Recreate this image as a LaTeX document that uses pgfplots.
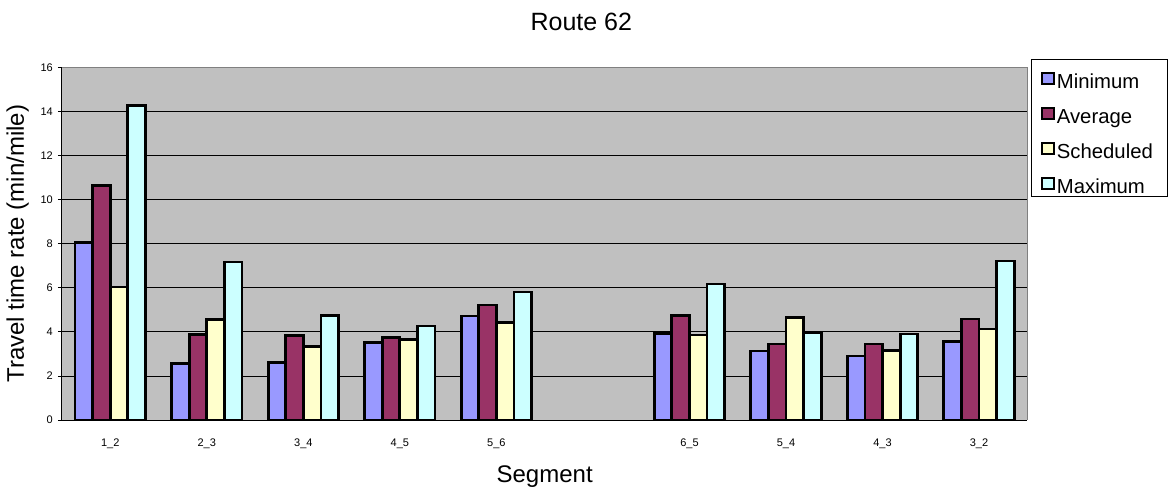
\documentclass[border=0pt]{standalone}
\usepackage{fontspec}
\setmainfont{Liberation Sans}
\usepackage{pgfplots}
\pgfplotsset{compat=1.18}
\definecolor{cmin}{HTML}{9999FF}
\definecolor{cavg}{HTML}{993366}
\definecolor{csch}{HTML}{FFFFCC}
\definecolor{cmax}{HTML}{CCFFFF}
\definecolor{bggray}{HTML}{C0C0C0}
\definecolor{framegray}{HTML}{808080}
\begin{document}
\begin{tikzpicture}
\useasboundingbox (-62bp,-71bp) rectangle (1107bp,420bp);
\begin{axis}[
  at={(0,0)}, anchor=south west,
  scale only axis, clip=false,
  width=965.3bp, height=352.7bp,
  /pgf/number format/assume math mode=true,
  ybar=0pt, bar width=17.6bp,
  xmin=-0.5, xmax=9.5, ymin=0, ymax=16,
  axis background/.style={fill=bggray},
  axis line style={draw=none},
  xtick={0,...,9},
  xticklabels={1\_2,2\_3,3\_4,4\_5,5\_6,,6\_5,5\_4,4\_3,3\_2},
  major x tick style={draw=none},
  extra x ticks={-0.5,0.5,...,9.5},
  extra x tick labels={},
  extra x tick style={major tick length=4bp, tick align=outside, tick style={draw=black, line width=0.8bp}},
  xtick pos=left, ytick pos=left,
  ytick={0,2,...,16},
  tick align=outside,
  major tick length=4bp,
  tick style={black, line width=0.8bp},
  ymajorgrids,
  major grid style={black, line width=0.8bp},
  xticklabel style={font=\fontsize{11bp}{13bp}\selectfont, anchor=base, yshift=-22bp, inner sep=0pt},
  yticklabel style={font=\fontsize{11bp}{13bp}\selectfont, anchor=east, inner sep=0pt, xshift=-5bp},
  title={Route 62},
  title style={font=\fontsize{25bp}{30bp}\selectfont, at={(axis description cs:0.538,1.086)}, anchor=base},
  xlabel={Segment},
  xlabel style={font=\fontsize{24bp}{28bp}\selectfont, at={(axis description cs:0.5,-0.178)}, anchor=base},
  ylabel={Travel time rate (min/mile)},
  ylabel style={font=\fontsize{24bp}{28bp}\selectfont, at={(axis description cs:-0.046,0.5)}, anchor=center, rotate=0},
  legend cell align=left,
  legend image code/.code={\draw[#1, draw=black, line width=2.2bp] (0bp,-3bp) rectangle (11.5bp,8.5bp);},
  legend style={at={(rel axis cs:1.0142,0.9881)}, anchor=north west,
    draw=none, fill=none,
    font=\fontsize{20.3bp}{23bp}\selectfont,
    inner sep=0bp, row sep=18.4bp,
    nodes={inner xsep=2bp, inner ysep=0pt, text height=14bp, text depth=0bp}},
]
\addplot[fill=cmin, draw=black, line width=2.8bp] coordinates {(0,8.04) (1,2.57) (2,2.60) (3,3.53) (4,4.72) (6,3.92) (7,3.13) (8,2.90) (9,3.55)};
\addplot[fill=cavg, draw=black, line width=2.8bp] coordinates {(0,10.63) (1,3.89) (2,3.84) (3,3.75) (4,5.22) (6,4.73) (7,3.45) (8,3.45) (9,4.58)};
\addplot[fill=csch, draw=black, line width=2.8bp] coordinates {(0,6.03) (1,4.57) (2,3.33) (3,3.66) (4,4.43) (6,3.86) (7,4.66) (8,3.14) (9,4.13)};
\addplot[fill=cmax, draw=black, line width=2.8bp] coordinates {(0,14.28) (1,7.17) (2,4.73) (3,4.26) (4,5.81) (6,6.17) (7,3.98) (8,3.90) (9,7.21)};
\legend{Minimum,Average,Scheduled,Maximum}
\draw[framegray, line width=1.5bp] (rel axis cs:0,1) -- (rel axis cs:1,1) -- (rel axis cs:1,0);
\draw[black, line width=1bp] (rel axis cs:0,1) -- (rel axis cs:0,0) -- (rel axis cs:1,0);
\draw[black, line width=0.8bp] (rel axis cs:1.0046,1.0235) rectangle (rel axis cs:1.1455,0.6331);
\end{axis}
\end{tikzpicture}
\end{document}
